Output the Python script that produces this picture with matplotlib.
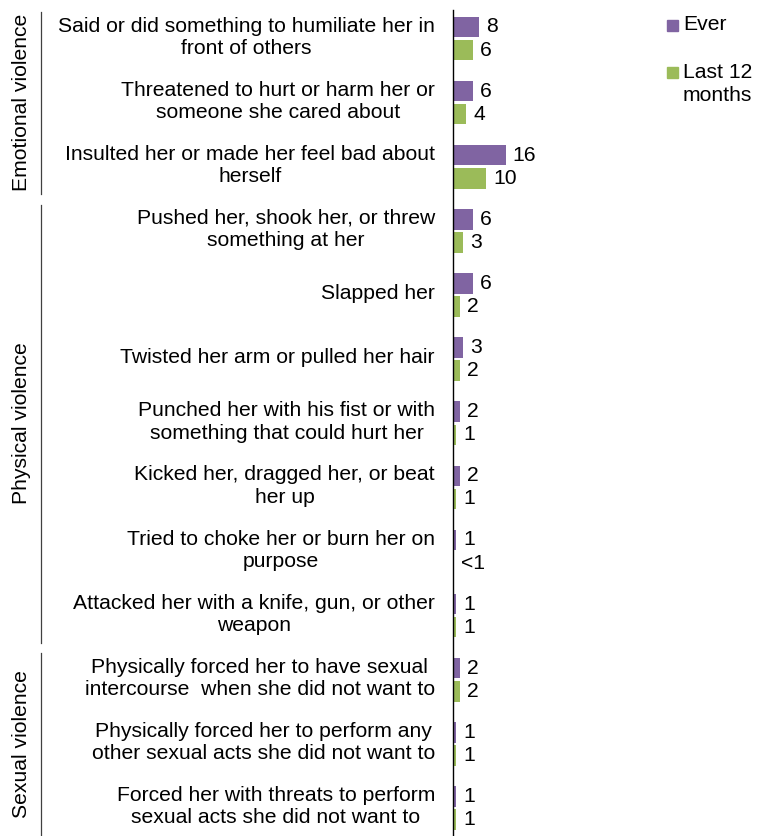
import matplotlib
matplotlib.use("Agg")
import matplotlib.pyplot as plt
from matplotlib.transforms import blended_transform_factory
import numpy as np

plt.rcParams['font.family'] = ['Liberation Sans', 'DejaVu Sans']

categories = [
    "Said or did something to humiliate her in\nfront of others",
    "Threatened to hurt or harm her or\nsomeone she cared about",
    "Insulted her or made her feel bad about\nherself",
    "Pushed her, shook her, or threw\nsomething at her",
    "Slapped her",
    "Twisted her arm or pulled her hair",
    "Punched her with his fist or with\nsomething that could hurt her",
    "Kicked her, dragged her, or beat\nher up",
    "Tried to choke her or burn her on\npurpose",
    "Attacked her with a knife, gun, or other\nweapon",
    "Physically forced her to have sexual\nintercourse  when she did not want to",
    "Physically forced her to perform any\nother sexual acts she did not want to",
    "Forced her with threats to perform\nsexual acts she did not want to",
]
ever = [8, 6, 16, 6, 6, 3, 2, 2, 1, 1, 2, 1, 1]
last12 = [6, 4, 10, 3, 2, 2, 1, 1, 0.3, 1, 2, 1, 1]
ever_labels = ["8", "6", "16", "6", "6", "3", "2", "2", "1", "1", "2", "1", "1"]
last12_labels = ["6", "4", "10", "3", "2", "2", "1", "1", "<1", "1", "2", "1", "1"]
groups = [("Emotional violence", 0, 2), ("Physical violence", 3, 9), ("Sexual violence", 10, 12)]
series_names = ["Ever", "Last 12\nmonths"]

purple = "#8064A2"
green = "#9BBB59"

W, H = 760, 836
fig = plt.figure(figsize=(W / 100, H / 100), dpi=100)
ax_left, ax_right = 453, 640
ax_top, ax_bot = 10, 836
ax = fig.add_axes([ax_left / W, 1 - ax_bot / H, (ax_right - ax_left) / W, (ax_bot - ax_top) / H])

px_per_unit = 3.3
ax.set_xlim(0, (ax_right - ax_left) / px_per_unit)
c0, c12 = 38.5, 808
slot = (c12 - c0) / 12
ax.set_ylim((ax_bot - c0) / slot, (ax_top - c0) / slot)

y = np.arange(len(categories))
off = 0.18
h = 0.32
ax.barh(y - off, ever, height=h, color=purple)
ax.barh(y + off, last12, height=h, color=green)

fs = 15.2
gap = 7 / px_per_unit
for i in range(len(categories)):
    ax.text(ever[i] + gap, y[i] - off, ever_labels[i], va='center', ha='left', fontsize=fs)
    ax.text(last12[i] + gap, y[i] + off, last12_labels[i], va='center', ha='left', fontsize=fs)

ax.set_xticks([])
ax.set_yticks([])
for s in ['top', 'right', 'bottom']:
    ax.spines[s].set_visible(False)
ax.spines['left'].set_linewidth(1.0)
ax.spines['left'].set_color('black')

tr = blended_transform_factory(fig.transFigure, ax.transData)
for i, c in enumerate(categories):
    ax.text(435 / W, y[i] - 0.02, c, transform=tr, ha='right', va='center',
            multialignment='center', fontsize=fs, linespacing=1.22)

for name, a, b in groups:
    ax.plot([41 / W, 41 / W], [a - 0.41, b + 0.42], transform=tr, color='#404040',
            lw=0.9, clip_on=False)
    ax.text(22 / W, (a + b) / 2, name, transform=tr, rotation=90, ha='center',
            va='center', fontsize=fs)

# legend
fig.patches.append(plt.Rectangle((667 / W, 1 - 31 / H), 11 / W, 11 / H,
                                 transform=fig.transFigure, color=purple))
fig.text(683 / W, 1 - 25 / H, series_names[0], ha='left', va='center', fontsize=fs)
fig.patches.append(plt.Rectangle((667 / W, 1 - 78 / H), 11 / W, 11 / H,
                                 transform=fig.transFigure, color=green))
fig.text(683 / W, 1 - 84 / H, series_names[1], ha='left', va='center', fontsize=fs,
         linespacing=1.22)

fig.savefig("out.png", dpi=100)
